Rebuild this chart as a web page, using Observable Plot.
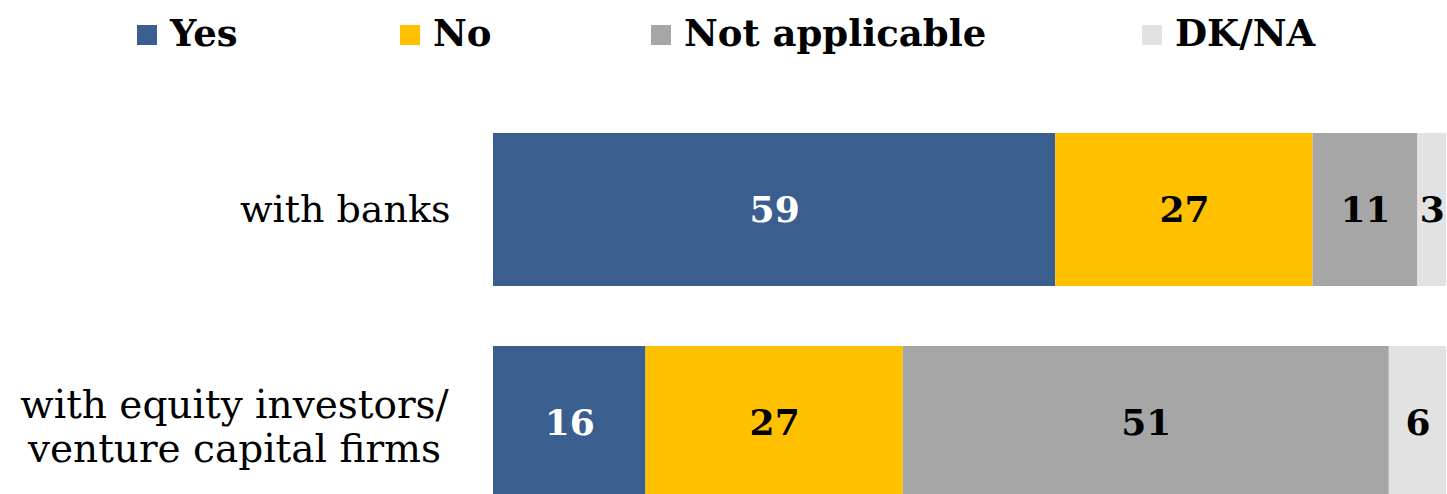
<!DOCTYPE html>
<html>
<head>
<meta charset="utf-8">
<script src="https://cdn.jsdelivr.net/npm/d3@7"></script>
<script src="https://cdn.jsdelivr.net/npm/@observablehq/plot@0.6"></script>
<style>
  html, body { margin: 0; padding: 0; background: #ffffff; }
  #chart { width: 1447px; height: 494px; overflow: hidden; position: relative; }
  #legend { position: relative; height: 80px; width: 1447px; font-family: "DejaVu Serif", serif; font-weight: bold; font-size: 37px; color: #000; }
  .item { position: absolute; top: 12px; display: flex; align-items: center; white-space: nowrap; line-height: 42px; }
  .sw { width: 20px; height: 20px; margin-right: 13px; margin-top: 4px; }
  svg { display: block; }
</style>
</head>
<body>
<div id="chart">
  <div id="legend"></div>
</div>
<script>
const categories = ["with banks", "with equity investors/\nventure capital firms"];
const series = ["Yes", "No", "Not applicable", "DK/NA"];
const colors = ["#3A5F8F", "#FFC000", "#A6A6A6", "#E2E2E2"];
const yesValues = [59, 16];
const noValues = [27, 27];
const notApplicableValues = [11, 51];
const dkValues = [3, 6];

const seriesValues = [yesValues, noValues, notApplicableValues, dkValues];
const tidy = [];
categories.forEach((c, i) => {
  series.forEach((s, j) => tidy.push({category: c, series: s, value: seriesValues[j][i]}));
});

// Legend
const legendLeft = [137, 400, 651, 1142];
const legend = d3.select("#legend");
series.forEach((s, i) => {
  const it = legend.append("div").attr("class", "item").style("left", legendLeft[i] + "px");
  it.append("div").attr("class", "sw").style("background", colors[i]);
  it.append("span").text(s);
});

const stackOpts = {x: "value", y: "category", z: "series", order: series};

const chart = Plot.plot({
  width: 1447,
  height: 420,
  marginLeft: 493,
  marginRight: 1,
  marginTop: 53,
  marginBottom: 0,
  style: {fontFamily: "DejaVu Serif, serif", background: "white", overflow: "visible"},
  x: {domain: [0, 100], axis: null},
  y: {domain: categories, paddingInner: 0.28, paddingOuter: 0, axis: null},
  color: {domain: series, range: colors},
  marks: [
    Plot.barX(tidy, Plot.stackX({...stackOpts, fill: "series"})),
    Plot.text(tidy, Plot.stackX({...stackOpts,
      text: d => d.series === "Yes" ? String(d.value) : "",
      fill: "white", fontSize: 36, fontWeight: "bold"})),
    Plot.text(tidy, Plot.stackX({...stackOpts,
      text: d => d.series !== "Yes" ? String(d.value) : "",
      fill: "black", fontSize: 36, fontWeight: "bold"})),
    Plot.text(categories.slice(0, 1), {y: d => d, text: d => d, frameAnchor: "left",
      textAnchor: "end", dx: -43, fontSize: 38, fill: "black"}),
    Plot.text(categories.slice(1), {y: d => d, text: d => d, frameAnchor: "left",
      textAnchor: "middle", dx: -259, dy: 3, fontSize: 39, lineHeight: 1.12, fill: "black"})
  ]
});
document.getElementById("chart").appendChild(chart);
</script>
</body>
</html>
